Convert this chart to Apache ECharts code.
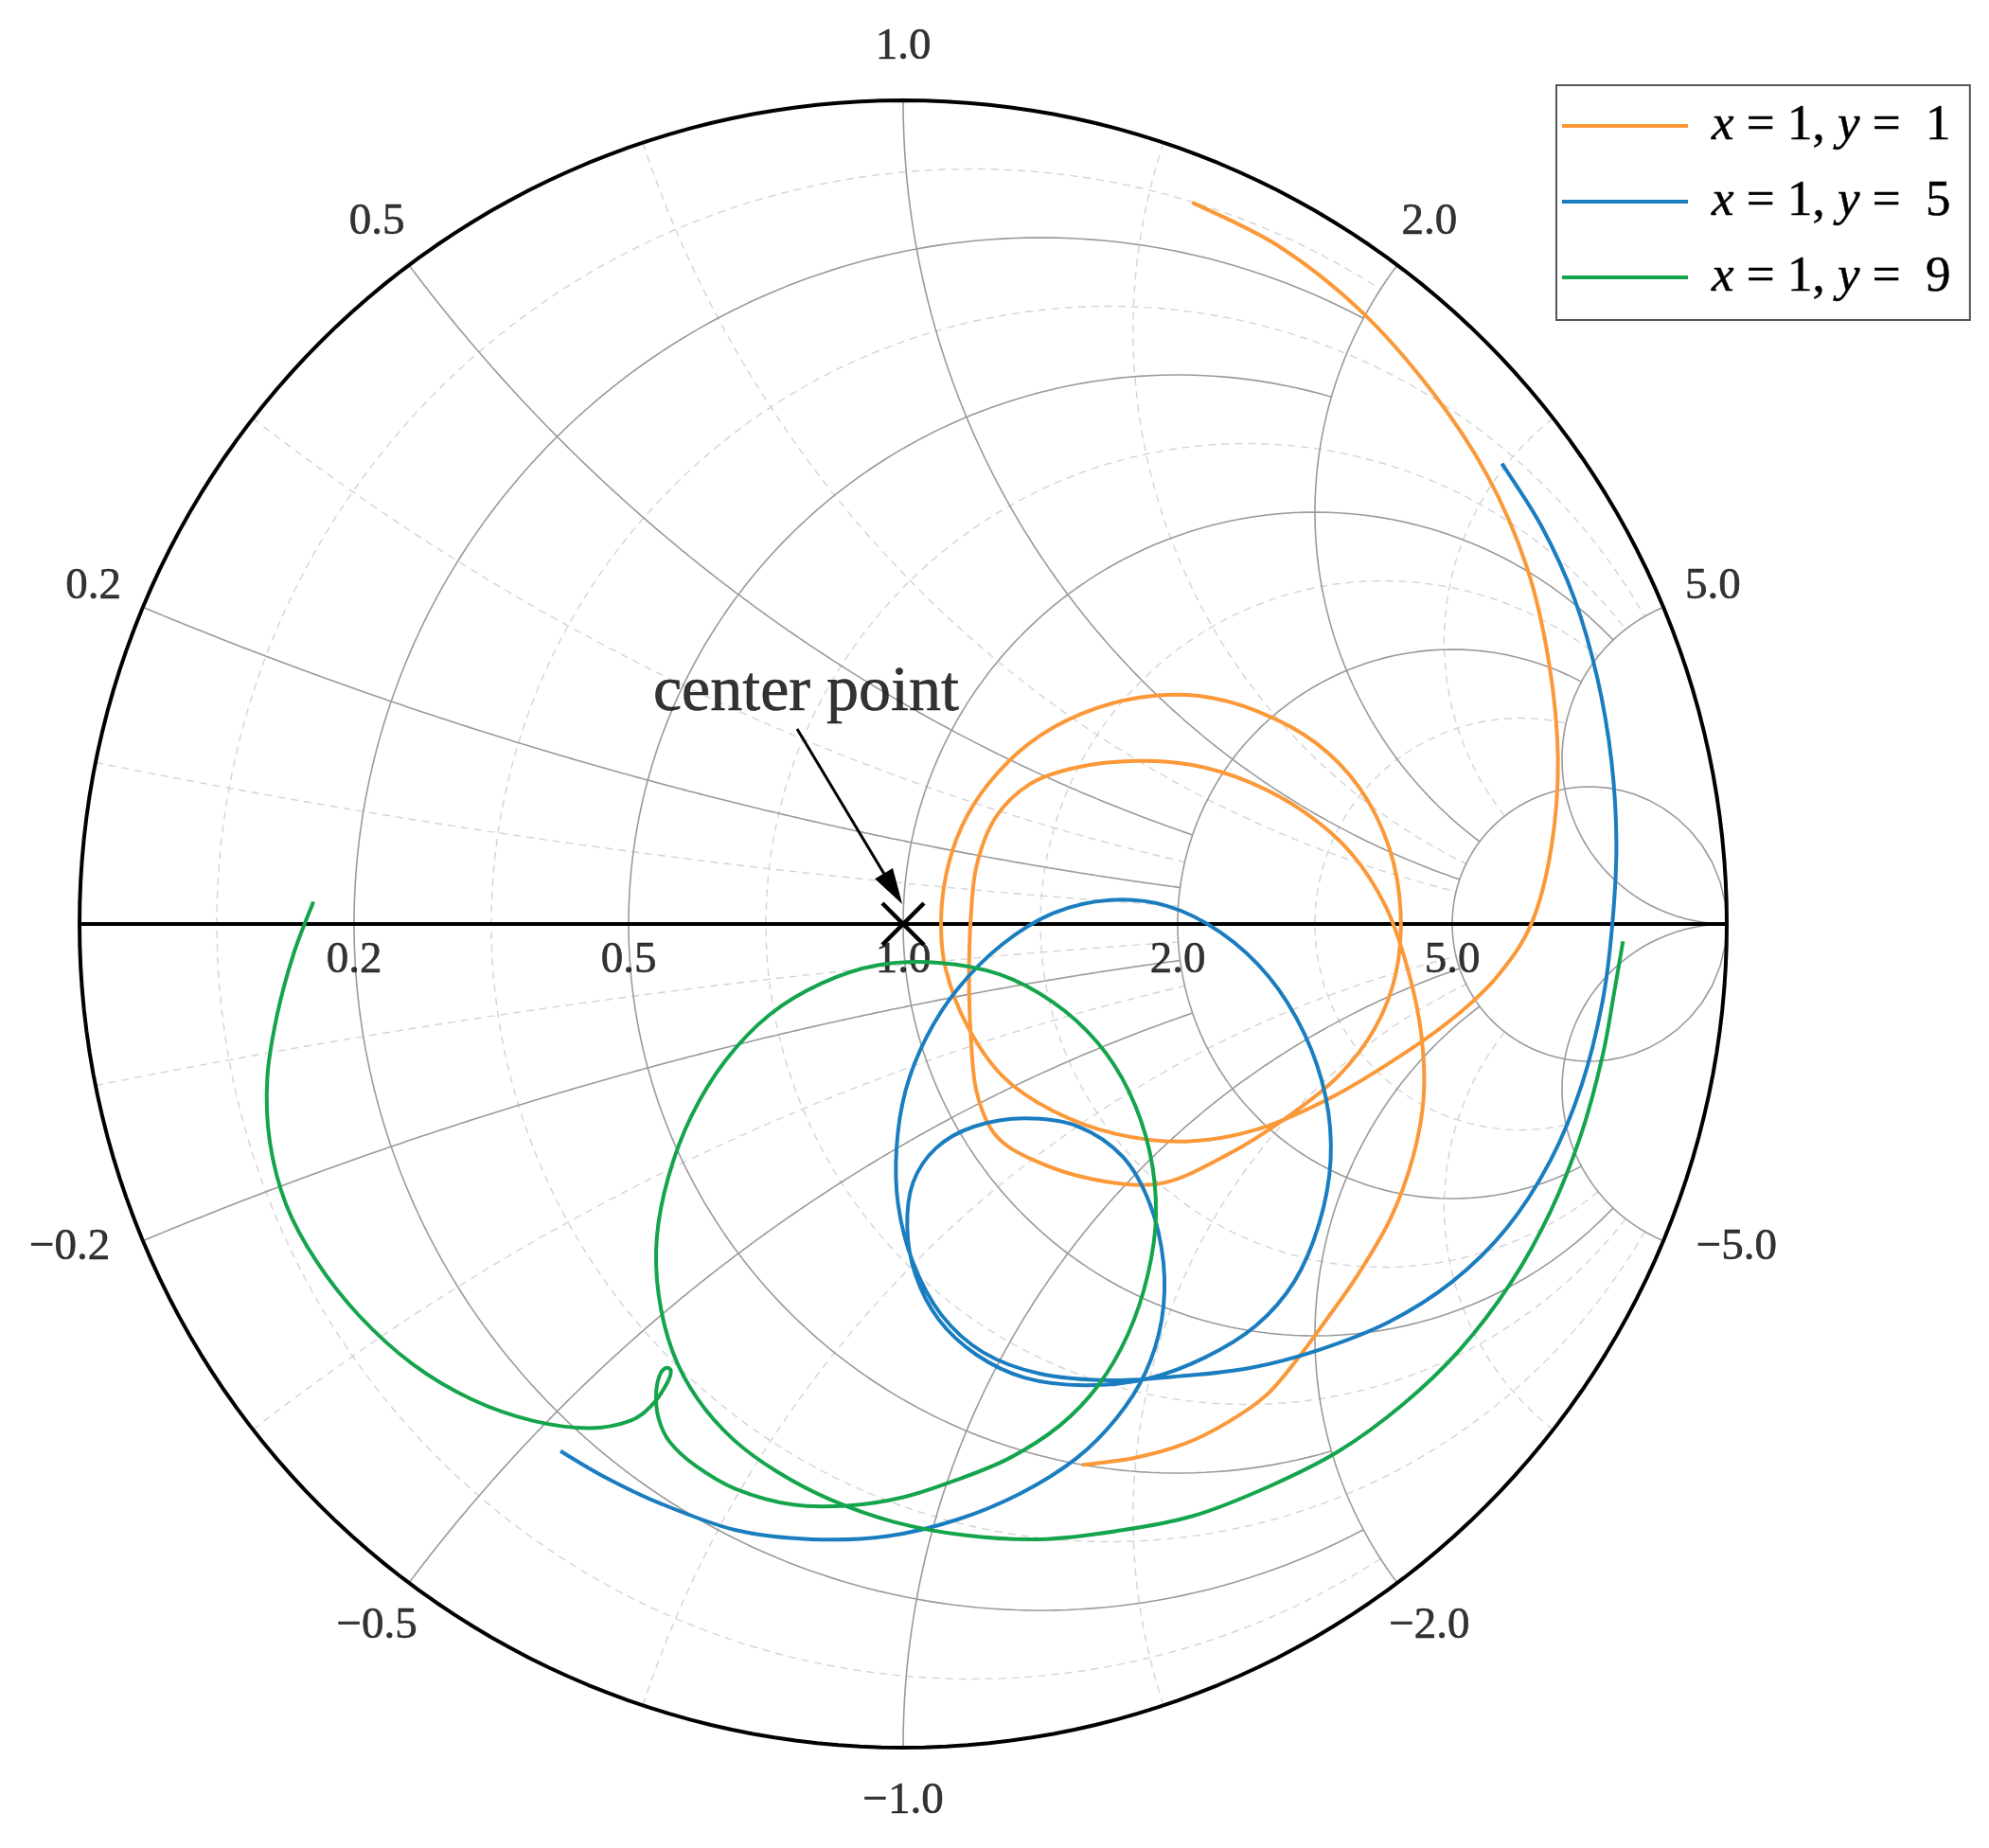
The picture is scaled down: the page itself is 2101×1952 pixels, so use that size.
<!DOCTYPE html>
<html>
<head>
<meta charset="utf-8">
<script src="https://cdn.jsdelivr.net/npm/echarts/dist/echarts.min.js"></script>
<style>
html, body { margin: 0; padding: 0; background: #fff; }
#smith_chart { width: 2101px; height: 1952px; }
</style>
</head>
<body>
<div id="smith_chart"></div>
<script>
// normalized impedance ticks of the smith chart
var resistanceTicks = [0.2, 0.5, 1.0, 2.0, 5.0];
var reactanceTicks = [0.2, 0.5, 1.0, 2.0, 5.0];
// how far each major line runs before it is cut (pySmithPlot "fancy" grid)
var resistanceLimit = [2, 2, 5, 5, Infinity];
var reactanceLimit = [2, 2, 5, 5, Infinity];

var seriesNames = ["x=1, y= 1", "x=1, y= 5", "x=1, y= 9"];
var seriesColors = ["#fb9838", "#1a7dc0", "#14a44c"];

// reflection coefficient [re, im] of each trace
var traceY1 = [[0.351,0.876],[0.456,0.823],[0.555,0.745],[0.641,0.648],[0.709,0.545],[0.757,0.434],[0.784,0.318],[0.795,0.201],[0.787,0.093],[0.763,0.001],[0.721,-0.064],[0.667,-0.115],[0.601,-0.162],[0.521,-0.210],[0.431,-0.249],[0.344,-0.264],[0.259,-0.255],[0.182,-0.227],[0.120,-0.184],[0.077,-0.122],[0.052,-0.056],[0.046,-0.001],[0.052,0.059],[0.071,0.118],[0.105,0.172],[0.154,0.220],[0.216,0.255],[0.287,0.275],[0.359,0.277],[0.431,0.258],[0.501,0.220],[0.555,0.164],[0.590,0.093],[0.604,0.016],[0.598,-0.061],[0.573,-0.126],[0.529,-0.184],[0.467,-0.234],[0.394,-0.280],[0.313,-0.315],[0.231,-0.310],[0.159,-0.287],[0.112,-0.256],[0.089,-0.203],[0.082,-0.133],[0.080,-0.064],[0.082,0.005],[0.089,0.070],[0.112,0.129],[0.154,0.170],[0.210,0.190],[0.282,0.198],[0.351,0.193],[0.421,0.172],[0.487,0.136],[0.544,0.086],[0.586,0.021],[0.613,-0.056],[0.629,-0.133],[0.632,-0.210],[0.619,-0.283],[0.592,-0.357],[0.552,-0.426],[0.512,-0.483],[0.478,-0.529],[0.441,-0.572],[0.394,-0.605],[0.342,-0.631],[0.282,-0.648],[0.217,-0.657]];

var traceY5 = [[0.727,0.559],[0.775,0.483],[0.815,0.395],[0.843,0.298],[0.860,0.198],[0.866,0.098],[0.861,-0.001],[0.849,-0.095],[0.824,-0.195],[0.786,-0.287],[0.733,-0.369],[0.667,-0.434],[0.590,-0.483],[0.505,-0.517],[0.421,-0.539],[0.336,-0.549],[0.251,-0.554],[0.166,-0.546],[0.097,-0.520],[0.046,-0.474],[0.012,-0.411],[-0.006,-0.341],[-0.008,-0.272],[0.003,-0.202],[0.028,-0.138],[0.066,-0.079],[0.120,-0.025],[0.182,0.013],[0.251,0.029],[0.320,0.022],[0.385,-0.010],[0.444,-0.064],[0.487,-0.133],[0.513,-0.210],[0.519,-0.287],[0.505,-0.364],[0.475,-0.434],[0.428,-0.488],[0.367,-0.526],[0.297,-0.552],[0.220,-0.560],[0.148,-0.551],[0.089,-0.523],[0.043,-0.480],[0.015,-0.426],[0.005,-0.369],[0.012,-0.314],[0.040,-0.272],[0.086,-0.246],[0.148,-0.236],[0.213,-0.246],[0.267,-0.283],[0.300,-0.341],[0.316,-0.411],[0.314,-0.480],[0.294,-0.545],[0.259,-0.600],[0.210,-0.649],[0.143,-0.691],[0.066,-0.723],[-0.018,-0.743],[-0.111,-0.747],[-0.203,-0.736],[-0.296,-0.703],[-0.365,-0.670],[-0.416,-0.640]];

var traceY9 = [[-0.716,0.027],[-0.740,-0.036],[-0.760,-0.110],[-0.772,-0.187],[-0.769,-0.264],[-0.749,-0.341],[-0.712,-0.410],[-0.661,-0.475],[-0.596,-0.534],[-0.524,-0.577],[-0.450,-0.603],[-0.381,-0.612],[-0.331,-0.603],[-0.304,-0.583],[-0.287,-0.558],[-0.282,-0.543],[-0.288,-0.539],[-0.296,-0.549],[-0.300,-0.572],[-0.297,-0.600],[-0.284,-0.628],[-0.253,-0.657],[-0.203,-0.686],[-0.134,-0.705],[-0.065,-0.706],[0.000,-0.696],[0.062,-0.676],[0.128,-0.649],[0.190,-0.609],[0.237,-0.560],[0.273,-0.498],[0.297,-0.426],[0.307,-0.352],[0.299,-0.275],[0.274,-0.203],[0.236,-0.144],[0.182,-0.095],[0.117,-0.061],[0.043,-0.047],[-0.031,-0.050],[-0.099,-0.072],[-0.162,-0.110],[-0.216,-0.166],[-0.257,-0.233],[-0.285,-0.307],[-0.299,-0.380],[-0.297,-0.449],[-0.280,-0.519],[-0.250,-0.576],[-0.206,-0.626],[-0.153,-0.665],[-0.088,-0.699],[-0.011,-0.726],[0.074,-0.742],[0.166,-0.747],[0.259,-0.737],[0.351,-0.719],[0.444,-0.683],[0.529,-0.640],[0.606,-0.584],[0.675,-0.518],[0.737,-0.437],[0.786,-0.349],[0.823,-0.256],[0.849,-0.161],[0.864,-0.079],[0.874,-0.021]];

var traces = [traceY1, traceY5, traceY9];

// annotation: where the "center point" text sits and where its arrow starts / ends
var notePos = [-0.118, 0.280];
var arrowFrom = [-0.1287, 0.2368];
var arrowTo = [-0.001, 0.024];

var serif = "Liberation Serif";

// z = r + jx  ->  gamma = (z - 1) / (z + 1)
function gamma(r, x) {
    var a = r - 1, c = r + 1;
    var den = c * c + x * x;
    return [(a * c + x * x) / den, (x * c - a * x) / den];
}

function resistanceArc(r, x0, x1) {
    var pts = [], t0 = Math.atan(x0), t1 = Math.atan(x1), n = 240;
    for (var i = 0; i <= n; i++) {
        pts.push(gamma(r, Math.tan(t0 + (t1 - t0) * i / n)));
    }
    return pts;
}

function reactanceArc(x, r0, r1) {
    var pts = [], t0 = Math.atan(r0), t1 = Math.atan(r1), n = 240;
    for (var i = 0; i <= n; i++) {
        pts.push(gamma(Math.tan(t0 + (t1 - t0) * i / n), x));
    }
    return pts;
}

function dist(p, q) {
    return Math.sqrt((p[0] - q[0]) * (p[0] - q[0]) + (p[1] - q[1]) * (p[1] - q[1]));
}

// minor values: halfway in display space between two major values
function midResistance(r0, r1) {
    var g = (gamma(r0, 0)[0] + gamma(r1, 0)[0]) / 2;
    return (1 + g) / (1 - g);
}
function midReactance(x0, x1) {
    var g0 = gamma(0, x0), g1 = gamma(0, x1);
    var a = (Math.atan2(g0[1], g0[0]) + Math.atan2(g1[1], g1[0])) / 2;
    return 1 / Math.tan(a / 2);
}

// smooth path (catmull-rom as cubic beziers) through the pixel points of a trace
function splinePath(pix) {
    var d = "M" + pix[0][0] + " " + pix[0][1];
    for (var i = 0; i < pix.length - 1; i++) {
        var p0 = pix[i - 1] || pix[i], p1 = pix[i], p2 = pix[i + 1], p3 = pix[i + 2] || pix[i + 1];
        d += " C" + (p1[0] + (p2[0] - p0[0]) / 6) + " " + (p1[1] + (p2[1] - p0[1]) / 6) +
             " " + (p2[0] - (p3[0] - p1[0]) / 6) + " " + (p2[1] - (p3[1] - p1[1]) / 6) +
             " " + p2[0] + " " + p2[1];
    }
    return d;
}

var majorStyle = { color: "#9a9a9a", width: 1.6 };
var minorStyle = { color: "#d4d4d4", width: 1.4, type: [8, 6] };

function gridLine(points, style, z) {
    return {
        type: "line", data: points, symbol: "none", showSymbol: false,
        silent: true, animation: false, clip: false, z: z,
        lineStyle: style
    };
}

var series = [];

// ---- minor (dashed) grid
var rEdges = [0].concat(resistanceTicks);
var xEdges = [0].concat(reactanceTicks);
var minGap = 0.05;

function runs(list) {
    var out = [];
    list.forEach(function (k) {
        if (out.length && out[out.length - 1][1] === k - 1) out[out.length - 1][1] = k;
        else out.push([k, k]);
    });
    return out;
}

for (var i = 0; i < rEdges.length - 1; i++) {
    var rm = midResistance(rEdges[i], rEdges[i + 1]);
    var keep = [];
    for (var k = 0; k < xEdges.length - 1; k++) {
        var xm = midReactance(xEdges[k], xEdges[k + 1]);
        if (dist(gamma(rEdges[i], xm), gamma(rEdges[i + 1], xm)) > minGap) keep.push(k);
    }
    runs(keep).forEach(function (run) {
        var xa = xEdges[run[0]], xb = xEdges[run[1] + 1];
        if (run[0] === 0) {
            series.push(gridLine(resistanceArc(rm, -xb, xb), minorStyle, 1));
        } else {
            series.push(gridLine(resistanceArc(rm, xa, xb), minorStyle, 1));
            series.push(gridLine(resistanceArc(rm, -xb, -xa), minorStyle, 1));
        }
    });
}

for (var k2 = 0; k2 < xEdges.length - 1; k2++) {
    var xm2 = midReactance(xEdges[k2], xEdges[k2 + 1]);
    var keep2 = [];
    for (var i2 = 0; i2 < rEdges.length - 1; i2++) {
        var rm2 = midResistance(rEdges[i2], rEdges[i2 + 1]);
        if (dist(gamma(rm2, xEdges[k2]), gamma(rm2, xEdges[k2 + 1])) > minGap) keep2.push(i2);
    }
    runs(keep2).forEach(function (run) {
        var ra = rEdges[run[0]], rb = rEdges[run[1] + 1];
        series.push(gridLine(reactanceArc(xm2, ra, rb), minorStyle, 1));
        series.push(gridLine(reactanceArc(-xm2, ra, rb), minorStyle, 1));
    });
}

// ---- major grid
resistanceTicks.forEach(function (r, idx) {
    var lim = resistanceLimit[idx];
    series.push(gridLine(resistanceArc(r, -lim, lim), majorStyle, 2));
});
reactanceTicks.forEach(function (x, idx) {
    var lim = reactanceLimit[idx];
    series.push(gridLine(reactanceArc(x, 0, lim), majorStyle, 2));
    series.push(gridLine(reactanceArc(-x, 0, lim), majorStyle, 2));
});

// outer circle and real axis
series.push(gridLine(resistanceArc(0, -Infinity, Infinity).concat([[1, 0]]), { color: "#000", width: 4 }, 3));
series.push(gridLine([[-1, 0], [1, 0]], { color: "#000", width: 4 }, 3));

// ---- labels
var labelFont = { color: "#000", fontFamily: serif, fontSize: 47, textBorderColor: "#000", textBorderWidth: 0.6 };

series.push({
    type: "scatter", silent: true, animation: false, symbolSize: 1, z: 4, clip: false,
    itemStyle: { color: "transparent" },
    data: resistanceTicks.map(function (r) {
        return { name: r.toFixed(1), value: [gamma(r, 0)[0], 0] };
    }),
    label: Object.assign({ show: true, position: "bottom", distance: 14, lineHeight: 48, formatter: "{b}" }, labelFont)
});

var imagLabels = [];
reactanceTicks.forEach(function (x) {
    [1, -1].forEach(function (s) {
        var g = gamma(0, s * x);
        var item = {
            name: (s < 0 ? "\u2212" : "") + x.toFixed(1),
            value: [g[0] * 1.065, g[1] * 1.065]
        };
        if (s < 0 && Math.abs(g[1]) < 0.5) {
            item.label = { offset: [g[0] < 0 ? -25 : 25, -15] };
        }
        imagLabels.push(item);
    });
});
series.push({
    type: "scatter", silent: true, animation: false, symbolSize: 1, z: 4, clip: false,
    itemStyle: { color: "transparent" },
    data: imagLabels,
    label: Object.assign({ show: true, position: "inside", formatter: "{b}" }, labelFont)
});

// ---- traces, drawn as smooth curves through the read points
traces.forEach(function (pts, idx) {
    var color = seriesColors[idx];
    series.push({
        name: seriesNames[idx], type: "custom", coordinateSystem: "cartesian2d",
        data: pts, silent: true, animation: false, z: 5,
        itemStyle: { color: color },
        renderItem: function (params, api) {
            if (params.dataIndex !== 0) return null;
            var pix = pts.map(function (p) { return api.coord(p); });
            return {
                type: "path",
                shape: { pathData: splinePath(pix) },
                style: { stroke: color, lineWidth: 4, fill: "none" }
            };
        }
    });
});

// ---- center point marker, note and arrow
series.push({
    type: "scatter", silent: true, animation: false, z: 7, clip: false,
    symbol: "path://M0,0L10,10M10,0L0,10", symbolSize: 44,
    itemStyle: { color: "transparent", borderColor: "#000", borderWidth: 4.5, opacity: 1 },
    data: [[0, 0]]
});
series.push({
    type: "scatter", silent: true, animation: false, symbolSize: 1, z: 7, clip: false,
    itemStyle: { color: "transparent" },
    data: [{ name: "center point", value: notePos }],
    label: {
        show: true, position: "inside", formatter: "{b}", color: "#000", fontFamily: serif, fontSize: 68,
        textBorderColor: "#000", textBorderWidth: 0.6
    }
});
var adx = arrowTo[0] - arrowFrom[0], ady = arrowTo[1] - arrowFrom[1];
var alen = Math.sqrt(adx * adx + ady * ady);
var headLen = 38 / 870;
var headMid = [arrowTo[0] - adx / alen * headLen / 2, arrowTo[1] - ady / alen * headLen / 2];
series.push(gridLine([arrowFrom, headMid], { color: "#000", width: 3 }, 7));
series.push({
    type: "scatter", silent: true, animation: false, z: 7, clip: false,
    symbol: "triangle", symbolSize: [22, 38],
    symbolRotate: Math.atan2(ady, adx) * 180 / Math.PI - 90,
    itemStyle: { color: "#000", opacity: 1 },
    data: [headMid]
});

var smithChart = echarts.init(document.getElementById("smith_chart"));
smithChart.setOption({
    backgroundColor: "#fff",
    animation: false,
    grid: { left: 84, top: 106, width: 1740, height: 1740 },
    xAxis: { type: "value", min: -1, max: 1, show: false },
    yAxis: { type: "value", min: -1, max: 1, show: false },
    legend: {
        data: seriesNames,
        orient: "vertical",
        left: 1644,
        top: 90,
        selectedMode: false,
        backgroundColor: "#fff",
        borderColor: "#555",
        borderWidth: 2,
        borderRadius: 0,
        padding: [13, 20, 15, 6],
        itemWidth: 133,
        itemHeight: 4,
        itemGap: 20,
        icon: "rect",
        formatter: function (name) {
            var y = name.split("y=")[1].trim();
            return "{sp|}{i|x} = 1, {i|y} =  " + y;
        },
        textStyle: {
            color: "#000", fontFamily: serif, fontSize: 53, lineHeight: 60,
            textBorderColor: "#000", textBorderWidth: 0.5,
            rich: {
                sp: { width: 20 },
                i: { fontStyle: "italic", fontFamily: serif, fontSize: 53, color: "#000", textBorderColor: "#000", textBorderWidth: 0.5 }
            }
        }
    },
    series: series
});
window.addEventListener("resize", function () {
    smithChart.resize();
});
</script>
</body>
</html>
